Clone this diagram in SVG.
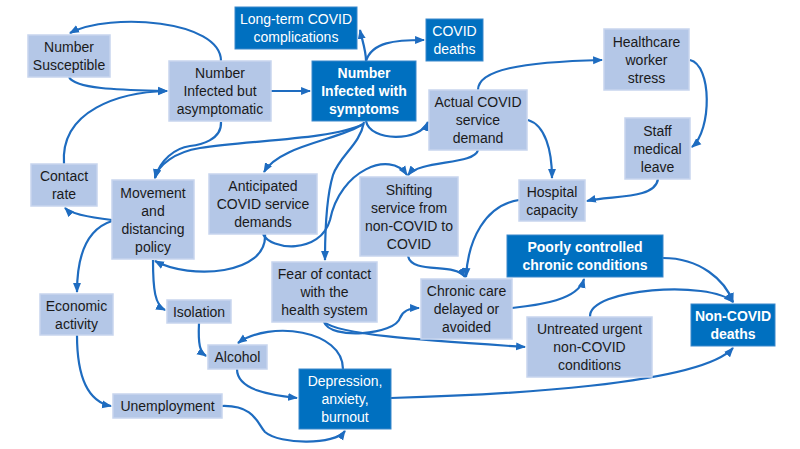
<svg xmlns="http://www.w3.org/2000/svg" width="800" height="449" viewBox="0 0 800 449">
<style>
.l rect{fill:#B4C7E7;stroke:#C7D5EE;stroke-width:1.5}
.d rect{fill:#0070C0;stroke:#3A88CC;stroke-width:1}
text{font-family:"Liberation Sans",Arial,sans-serif;font-size:14px;text-anchor:middle}
.l text{fill:#1a1a1a}
.d text{fill:#ffffff}
.b text{font-weight:bold}
#connectors path{fill:none;stroke:#1E6CC0;stroke-width:2.2;marker-end:url(#ah)}
</style>
<defs>
<marker id="ah" viewBox="0 0 10 8" refX="9" refY="4" markerWidth="4.5" markerHeight="4" orient="auto" markerUnits="strokeWidth">
<path d="M0,0 L10,4 L0,8 z" fill="#1E6CC0"/>
</marker>
</defs>
<rect width="800" height="449" fill="#ffffff"/>
<g id="connectors">
<path d="M221,61 C221,20 110,12 70,33"/>
<path d="M69,77 C75,90 130,90 167,91"/>
<path d="M64,164 C60,110 120,92 167,91"/>
<path d="M271,91 L310,91"/>
<path d="M366,61 C366,50 362,40 360,30"/>
<path d="M366,61 C372,42 395,40 424,40"/>
<path d="M366,121 C370,142 420,142 428,122"/>
<path d="M221,122 C222,140 200,145 190,146 C175,148 160,160 155,178"/>
<path d="M364,124 C330,140 250,140 200,148 C175,152 158,165 155,178"/>
<path d="M363,124 C340,140 280,145 264,172"/>
<path d="M364,122 C360,145 340,155 333,175 C327,195 325,220 325,260"/>
<path d="M265,234 C268,275 190,280 155,261"/>
<path d="M263,234 C270,250 320,255 330,220 C340,170 390,150 407,175"/>
<path d="M478,150 C475,165 420,160 408,175"/>
<path d="M478,90 C478,70 520,62 602,60"/>
<path d="M690,60 C712,65 712,130 692,147"/>
<path d="M658,179 C655,200 610,195 587,201"/>
<path d="M528,120 C545,125 552,150 552,178"/>
<path d="M519,200 C485,205 468,240 466,277"/>
<path d="M408,256 C412,275 455,262 465,277"/>
<path d="M512,308 C540,305 578,300 584,279"/>
<path d="M663,258 C700,258 725,280 733,302"/>
<path d="M590,317 C588,288 710,280 733,302"/>
<path d="M324,322 C330,340 395,335 400,318 C403,310 410,308 419,308"/>
<path d="M324,322 C340,335 420,340 525,347"/>
<path d="M391,398 C500,395 700,385 733,348"/>
<path d="M343,369 C343,330 270,320 238,343"/>
<path d="M237,369 C237,390 270,395 297,398"/>
<path d="M222,406 C255,405 258,425 265,432 C280,445 335,445 345,431"/>
<path d="M199,323 C198,345 200,352 206,356"/>
<path d="M153,260 C153,290 155,305 165,310"/>
<path d="M112,220 C95,218 72,215 65,208"/>
<path d="M112,221 C90,228 77,250 77,292"/>
<path d="M77,335 C77,380 90,402 111,406"/>
</g>
<g id="susceptible" class="l"><rect x="28" y="35" width="82" height="42"/><text x="69" y="52">Number</text><text x="69" y="70">Susceptible</text></g>
<g id="asymptomatic" class="l"><rect x="169" y="61" width="102" height="60"/><text x="220" y="78">Number</text><text x="220" y="96">Infected but</text><text x="220" y="114">asymptomatic</text></g>
<g id="symptoms" class="d b"><rect x="312" y="61" width="104" height="60"/><text x="364" y="78">Number</text><text x="364" y="96">Infected with</text><text x="364" y="114">symptoms</text></g>
<g id="longterm" class="d"><rect x="235" y="7" width="122" height="42"/><text x="296" y="24">Long-term COVID</text><text x="296" y="42">complications</text></g>
<g id="coviddeaths" class="d"><rect x="426" y="19" width="57" height="42"/><text x="454.5" y="36">COVID</text><text x="454.5" y="54">deaths</text></g>
<g id="actual" class="l"><rect x="429" y="90" width="98" height="60"/><text x="478" y="107">Actual COVID</text><text x="478" y="125">service</text><text x="478" y="143">demand</text></g>
<g id="healthcare" class="l"><rect x="604" y="29" width="85" height="61"/><text x="646.5" y="46.5">Healthcare</text><text x="646.5" y="64.5">worker</text><text x="646.5" y="82.5">stress</text></g>
<g id="staff" class="l"><rect x="625" y="118" width="65" height="61"/><text x="657.5" y="135.5">Staff</text><text x="657.5" y="153.5">medical</text><text x="657.5" y="171.5">leave</text></g>
<g id="hospital" class="l"><rect x="519" y="180" width="66" height="41"/><text x="552" y="196.5">Hospital</text><text x="552" y="214.5">capacity</text></g>
<g id="poorly" class="d b"><rect x="507" y="235" width="156" height="42"/><text x="585" y="252">Poorly controlled</text><text x="585" y="270">chronic conditions</text></g>
<g id="noncoviddeaths" class="d b"><rect x="691" y="304" width="84" height="42"/><text x="733" y="321">Non-COVID</text><text x="733" y="339">deaths</text></g>
<g id="untreated" class="l"><rect x="527" y="317" width="125" height="60"/><text x="589.5" y="334">Untreated urgent</text><text x="589.5" y="352">non-COVID</text><text x="589.5" y="370">conditions</text></g>
<g id="chronic" class="l"><rect x="421" y="279" width="91" height="60"/><text x="466.5" y="296">Chronic care</text><text x="466.5" y="314">delayed or</text><text x="466.5" y="332">avoided</text></g>
<g id="depression" class="d"><rect x="299" y="369" width="92" height="60"/><text x="345" y="386">Depression,</text><text x="345" y="404">anxiety,</text><text x="345" y="422">burnout</text></g>
<g id="fear" class="l"><rect x="272" y="262" width="105" height="60"/><text x="324.5" y="279">Fear of contact</text><text x="324.5" y="297">with the</text><text x="324.5" y="315">health system</text></g>
<g id="shifting" class="l"><rect x="360" y="177" width="98" height="79"/><text x="409" y="195">Shifting</text><text x="409" y="213">service from</text><text x="409" y="231">non-COVID to</text><text x="409" y="249">COVID</text></g>
<g id="anticipated" class="l"><rect x="209" y="174" width="108" height="60"/><text x="263" y="191">Anticipated</text><text x="263" y="209">COVID service</text><text x="263" y="227">demands</text></g>
<g id="movement" class="l"><rect x="112" y="180" width="82" height="79"/><text x="153" y="198">Movement</text><text x="153" y="216">and</text><text x="153" y="234">distancing</text><text x="153" y="252">policy</text></g>
<g id="contact" class="l"><rect x="31" y="164" width="66" height="42"/><text x="64" y="181">Contact</text><text x="64" y="199">rate</text></g>
<g id="economic" class="l"><rect x="40" y="294" width="73" height="41"/><text x="76.5" y="310.5">Economic</text><text x="76.5" y="328.5">activity</text></g>
<g id="isolation" class="l"><rect x="167" y="300" width="64" height="23"/><text x="199" y="316.5">Isolation</text></g>
<g id="alcohol" class="l"><rect x="208" y="345" width="59" height="24"/><text x="237.5" y="362">Alcohol</text></g>
<g id="unemployment" class="l"><rect x="113" y="394" width="109" height="24"/><text x="167.5" y="411">Unemployment</text></g>
</svg>
